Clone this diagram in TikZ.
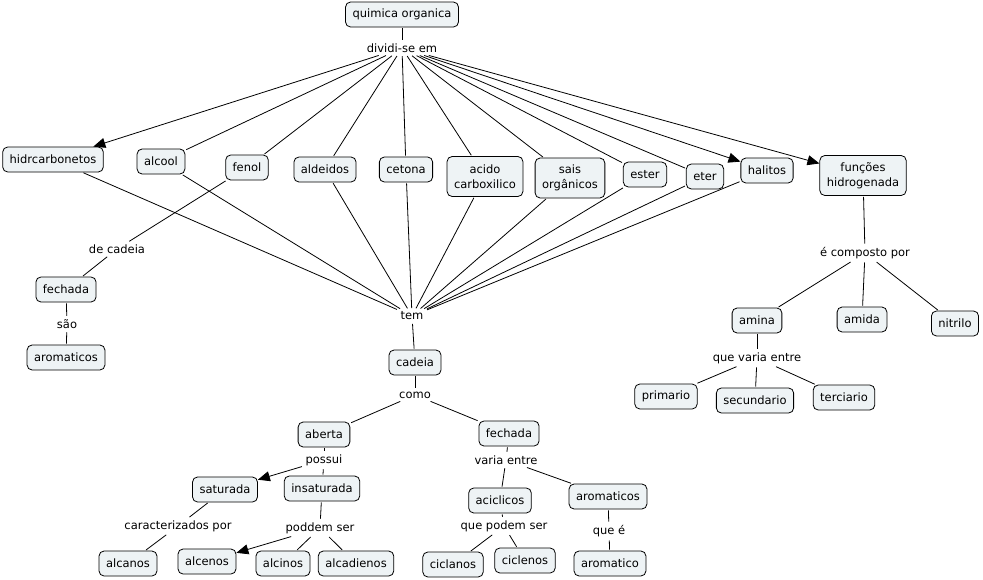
\documentclass[tikz,border=0pt]{standalone}
\usepackage{fontspec}
\setmainfont{DejaVu Sans}
\usetikzlibrary{arrows.meta}
\definecolor{boxfill}{RGB}{238,243,245}
\begin{document}
\begin{tikzpicture}[x=1pt,y=-1pt,
  concept/.style={draw=black,line width=0.8pt,rounded corners=5pt,fill=boxfill,
    inner xsep=7pt,inner ysep=2pt,minimum height=25pt,align=center,
    font=\fontsize{11.5}{14.5}\selectfont},
  tall/.style={minimum height=40pt},
  linkl/.style={inner sep=2.5pt,font=\fontsize{11.5}{14}\selectfont,fill=none},
  conn/.style={draw=black,line width=0.8pt,shorten <=1pt,shorten >=1pt},
  arr/.style={conn,-{Triangle[length=12pt,width=10pt]},shorten >=0pt}]
\useasboundingbox (0,0) rectangle (983,579);
\fill[white] (0,0) rectangle (983,579);
% concepts
\node[concept] (qo) at (402,14.5) {quimica organica};
\node[concept] (hid) at (53,159.5) {hidrcarbonetos};
\node[concept] (alc) at (161,161.5) {alcool};
\node[concept] (fen) at (247,167.5) {fenol};
\node[concept] (ald) at (325,169.5) {aldeidos};
\node[concept] (cet) at (406,169.5) {cetona};
\node[concept,tall] (aci) at (485,176.5) {acido\\carboxilico};
\node[concept,tall] (sai) at (570,178) {sais\\orgânicos};
\node[concept] (est) at (645,174.5) {ester};
\node[concept] (ete) at (705,176.5) {eter};
\node[concept] (hal) at (767,170.5) {halitos};
\node[concept,tall] (fun) at (863,175.5) {funções\\hidrogenada};
\node[concept] (fec1) at (66,289.5) {fechada};
\node[concept] (aro1) at (66,357.5) {aromaticos};
\node[concept] (cad) at (415,362.5) {cadeia};
\node[concept] (abe) at (324,434.5) {aberta};
\node[concept] (fec2) at (509,433.5) {fechada};
\node[concept] (sat) at (225,489.5) {saturada};
\node[concept] (ins) at (322,488.5) {insaturada};
\node[concept] (acic) at (500,500.5) {aciclicos};
\node[concept] (aro2) at (608,496.5) {aromaticos};
\node[concept] (alca) at (128,563.5) {alcanos};
\node[concept] (alce) at (207,561.5) {alcenos};
\node[concept] (alci) at (283,563.5) {alcinos};
\node[concept] (alcd) at (356,563.5) {alcadienos};
\node[concept] (cicla) at (453,564.5) {ciclanos};
\node[concept] (cicle) at (525,560.5) {ciclenos};
\node[concept] (arom) at (610,563.5) {aromatico};
\node[concept] (ami) at (757,320.5) {amina};
\node[concept] (amd) at (862,319.5) {amida};
\node[concept] (nit) at (955,323.5) {nitrilo};
\node[concept] (pri) at (666,396.5) {primario};
\node[concept] (sec) at (755,400.5) {secundario};
\node[concept] (ter) at (844,397.5) {terciario};
% linking phrases
\node[linkl] (div) at (402,48) {dividi-se em};
\node[linkl] (dec) at (117,249) {de cadeia};
\node[linkl] (sao) at (67,324) {são};
\node[linkl] (tem) at (412,316) {tem};
\node[linkl] (com) at (415,395) {como};
\node[linkl] (pos) at (324,460) {possui};
\node[linkl] (var) at (506,460) {varia entre};
\node[linkl] (car) at (178,526) {caracterizados por};
\node[linkl] (pod) at (320,528) {poddem ser};
\node[linkl] (qps) at (504,526) {que podem ser};
\node[linkl] (que) at (609,531) {que é};
\node[linkl] (ecp) at (865,253) {é composto por};
\node[linkl] (qve) at (757,358) {que varia entre};
% connectors
\draw[conn] (qo) -- (div);
\draw[arr] (div) -- (hid);
\foreach \t in {alc,fen,ald,cet,aci,sai,est,ete} \draw[conn] (div) -- (\t);
\draw[arr] (div) -- (hal);
\draw[arr] (div) -- (fun);
\foreach \s in {hid,alc,ald,cet,aci,sai,est,ete,hal} \draw[conn] (\s) -- (tem);
\draw[conn] (fen) -- (dec);
\draw[conn] (dec) -- (fec1);
\draw[conn] (fec1) -- (sao);
\draw[conn] (sao) -- (aro1);
\draw[conn] (tem) -- (cad);
\draw[conn] (cad) -- (com);
\draw[conn] (com) -- (abe);
\draw[conn] (com) -- (fec2);
\draw[conn] (abe) -- (pos);
\draw[arr] (pos) -- (sat);
\draw[conn] (pos) -- (ins);
\draw[conn] (sat) -- (car);
\draw[conn] (car) -- (alca);
\draw[conn] (ins) -- (pod);
\draw[arr] (pod) -- (alce);
\draw[conn] (pod) -- (alci);
\draw[conn] (pod) -- (alcd);
\draw[conn] (fec2) -- (var);
\draw[conn] (var) -- (acic);
\draw[conn] (var) -- (aro2);
\draw[conn] (acic) -- (qps);
\draw[conn] (qps) -- (cicla);
\draw[conn] (qps) -- (cicle);
\draw[conn] (aro2) -- (que);
\draw[conn] (que) -- (arom);
\draw[conn] (fun) -- (ecp);
\draw[conn] (ecp) -- (ami);
\draw[conn] (ecp) -- (amd);
\draw[conn] (ecp) -- (nit);
\draw[conn] (ami) -- (qve);
\draw[conn] (qve) -- (pri);
\draw[conn] (qve) -- (sec);
\draw[conn] (qve) -- (ter);
\end{tikzpicture}
\end{document}
